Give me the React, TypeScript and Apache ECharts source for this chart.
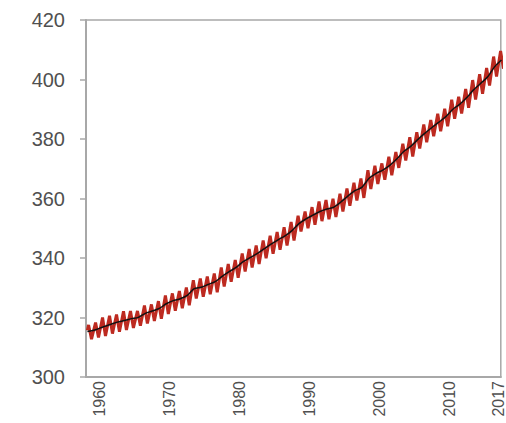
import React, { useEffect, useRef } from "react";
import * as echarts from "echarts";

// Calendar years covered by the record
const years: number[] = [
  1958, 1959, 1960, 1961, 1962, 1963, 1964, 1965, 1966, 1967,
  1968, 1969, 1970, 1971, 1972, 1973, 1974, 1975, 1976, 1977,
  1978, 1979, 1980, 1981, 1982, 1983, 1984, 1985, 1986, 1987,
  1988, 1989, 1990, 1991, 1992, 1993, 1994, 1995, 1996, 1997,
  1998, 1999, 2000, 2001, 2002, 2003, 2004, 2005, 2006, 2007,
  2008, 2009, 2010, 2011, 2012, 2013, 2014, 2015, 2016, 2017,
];

// Annual mean CO2 (ppm) - black trend line
const annualMean: number[] = [
  315.3, 315.97, 316.91, 317.64, 318.45, 318.99, 319.62, 320.04, 321.38, 322.16,
  323.04, 324.62, 325.68, 326.32, 327.45, 329.68, 330.18, 331.11, 332.04, 333.83,
  335.4, 336.84, 338.75, 340.11, 341.45, 343.05, 344.65, 346.12, 347.42, 349.19,
  351.57, 353.12, 354.39, 355.61, 356.45, 357.1, 358.83, 360.82, 362.61, 363.73,
  366.7, 368.38, 369.55, 371.14, 373.28, 375.8, 377.52, 379.8, 381.9, 383.79,
  385.6, 387.43, 389.9, 391.65, 393.85, 396.52, 398.65, 400.83, 404.24, 406.55,
];

// Seasonal maximum (late spring) per year (ppm) - red curve
const seasonalPeak: number[] = [
  317.5, 318.3, 320.0, 320.6, 321.0, 322.1, 322.2, 322.2, 324.0, 324.4,
  325.5, 327.4, 328.1, 328.9, 330.1, 332.5, 333.1, 333.8, 334.8, 336.8,
  338.0, 339.3, 341.5, 343.0, 344.2, 345.9, 347.5, 348.7, 350.3, 352.1,
  354.2, 355.6, 357.1, 359.0, 359.5, 359.9, 361.6, 363.4, 365.3, 366.7,
  369.5, 371.0, 371.8, 374.0, 375.6, 378.4, 380.6, 382.3, 384.9, 386.4,
  388.5, 390.2, 393.2, 394.2, 396.8, 399.8, 401.8, 403.9, 407.7, 409.6,
];

// Seasonal minimum (early autumn) per year (ppm) - red curve
const seasonalTrough: number[] = [
  312.7, 313.3, 313.8, 314.6, 315.2, 315.8, 316.5, 317.2, 318.0, 318.8,
  319.6, 321.2, 322.3, 323.1, 324.1, 326.4, 327.0, 327.8, 328.5, 330.4,
  332.0, 333.4, 335.5, 336.8, 338.0, 339.9, 341.4, 342.8, 344.2, 345.9,
  348.9, 350.0, 351.2, 352.4, 353.0, 353.8, 355.6, 357.6, 359.3, 360.2,
  363.2, 364.9, 366.3, 367.8, 370.3, 372.8, 374.1, 376.8, 378.9, 380.9,
  382.6, 384.3, 386.8, 388.6, 390.5, 393.3, 395.2, 398.0, 401.0, 403.6,
];

// First observation of the record (March 1958)
const firstObs: [number, number] = [1958.2, 315.7];

const xTickLabels: number[] = [1960, 1970, 1980, 1990, 2000, 2010, 2017];
const yMin = 300;
const yMax = 420;
const yStep = 20;
const xMin = 1958;
const xMax = 2017.4;

export default function App() {
  const ref = useRef<HTMLDivElement>(null);

  useEffect(() => {
    if (!ref.current) return;
    const chart = echarts.init(ref.current, undefined, { renderer: "svg" });

    const redData: [number, number][] = [firstObs];
    years.forEach((y, i) => {
      redData.push([y + 0.37, seasonalPeak[i]]);
      redData.push([y + 0.79, seasonalTrough[i]]);
    });
    const blackData: [number, number][] = years.map((y, i) => [
      i === 0 ? 1958.2 : y + 0.5,
      annualMean[i],
    ]);

    const font = "'Liberation Sans', Arial, sans-serif";
    const gray = "#a8a8a8";

    chart.setOption({
      animation: false,
      grid: {
        left: 86,
        right: 4,
        top: 20,
        bottom: 46,
        show: true,
        borderColor: gray,
        borderWidth: 1.5,
        backgroundColor: "transparent",
      },
      xAxis: {
        type: "value",
        min: xMin,
        max: xMax,
        axisLine: { show: true, lineStyle: { color: gray, width: 2 } },
        axisTick: { show: false },
        splitLine: { show: false },
        axisLabel: {
          customValues: xTickLabels,
          rotate: 90,
          margin: 4,
          fontSize: 16,
          fontFamily: font,
          color: "#505050",
          formatter: (v: number) => String(v),
        },
      },
      yAxis: {
        type: "value",
        min: yMin,
        max: yMax,
        interval: yStep,
        axisLine: { show: true, lineStyle: { color: gray, width: 2 } },
        axisTick: { show: true, length: 6, lineStyle: { color: gray, width: 1.5 } },
        splitLine: { show: false },
        axisLabel: {
          margin: 21,
          fontSize: 20,
          fontFamily: font,
          color: "#505050",
        },
      },
      series: [
        {
          type: "line",
          data: redData,
          showSymbol: false,
          symbol: "none",
          clip: true,
          lineStyle: { color: "#bd2a20", width: 3 },
          z: 2,
        },
        {
          type: "line",
          data: blackData,
          showSymbol: false,
          symbol: "none",
          clip: true,
          smooth: 0.3,
          lineStyle: { color: "#111111", width: 1.5 },
          z: 3,
        },
      ],
    });

    return () => chart.dispose();
  }, []);

  return (
    <div
      ref={ref}
      style={{ position: "fixed", left: 0, top: 0, width: 506, height: 423, background: "#fff" }}
    />
  );
}
